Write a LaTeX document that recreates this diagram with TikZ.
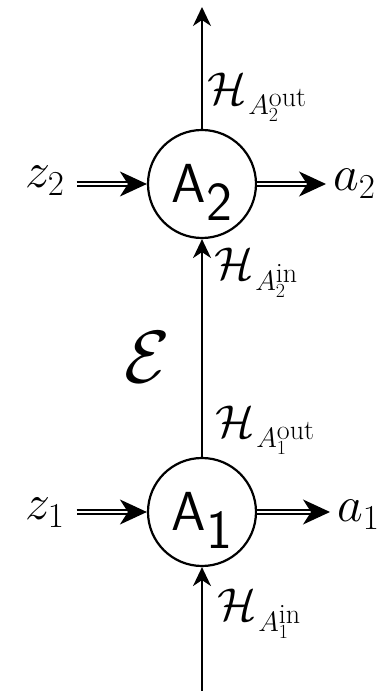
\RequirePackage{fix-cm}
\documentclass[tikz,border=0pt]{standalone}
\usetikzlibrary{arrows.meta}
\DeclareMathSizes{46}{46}{28}{20}
\newcommand\hspacelab[2]{$\mathcal{H}_{\mkern1.5mu A_{#1}^{\mbox{\fontsize{28}{28}\selectfont #2}}}$}
\begin{document}
\begin{tikzpicture}[x=1pt,y=1pt,
  agent/.style={circle,draw,line width=2.2pt,minimum size=108pt,inner sep=0pt,text depth=0pt,font=\sffamily\fontsize{55}{60}\selectfont},
  vlink/.style={line width=1.9pt,-{Stealth[length=19pt,width=18pt,inset=6pt]}},
  dlink/.style={double,double distance=2.8pt,line width=1.3pt,-{Stealth[length=27pt,width=25pt,inset=8pt]}},
  io/.style={font=\fontsize{50}{60}\selectfont,inner sep=4pt,anchor=base west},
  hlab/.style={font=\fontsize{46}{52}\selectfont,anchor=base west,inner sep=0pt},
]
\useasboundingbox (0,0) rectangle (390,691);
\node[agent] (A2) at (202,507) {\raisebox{2pt}{A$_{\textsf{2}}$}};
\node[agent] (A1) at (202,179) {\raisebox{2pt}{A$_{\textsf{1}}$}};
\coordinate (top) at (202,684);
\coordinate (bot) at (202,0);
\node[io] (z2) at (21,503) {$z_2$};
\node[io] (a2) at (329,500) {$a_2$};
\node[io] (z1) at (21,171) {$z_1$};
\node[io] (a1) at (333,169) {$a_1$};
\node[hlab] (h2o) at (207,586) {\hspacelab{2}{out}};
\node[hlab] (h2i) at (214,411) {\hspacelab{2}{in}};
\node[hlab] (h1o) at (215,253) {\hspacelab{1}{out}};
\node[hlab] (h1i) at (217,70) {\hspacelab{1}{in}};
\node[font=\fontsize{74}{80}\selectfont] (E) at (147,334) {$\mathcal{E}$};
\draw[vlink] (A2.north) -- (top);
\draw[vlink] (A1.north) -- (A2.south);
\draw[vlink] (bot) -- (A1.south);
\draw[dlink,shorten <=8pt] (z2.east |- A2) -- (A2.west);
\draw[dlink,shorten >=3pt] (A2.east) -- (a2.west |- A2);
\draw[dlink,shorten <=8pt] (z1.east |- A1) -- (A1.west);
\draw[dlink,shorten >=3pt] (A1.east) -- (a1.west |- A1);
\end{tikzpicture}
\end{document}
